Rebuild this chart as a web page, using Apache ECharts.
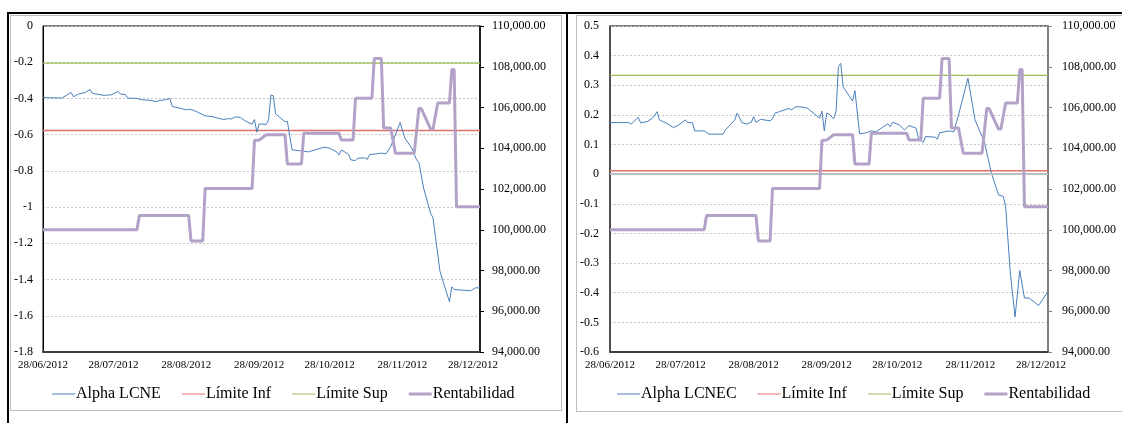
<!DOCTYPE html>
<html>
<head>
<meta charset="utf-8">
<script src="https://cdn.jsdelivr.net/npm/echarts@6/dist/echarts.min.js"></script>
<style>
  html, body { margin:0; padding:0; background:#fff; }
  #wrap { position:relative; width:1122px; height:423px; overflow:hidden; background:#fff; }
  #chart { position:absolute; left:0; top:0; width:1122px; height:423px; }
  .b { position:absolute; }
</style>
</head>
<body>
<div id="wrap">
  <div class="b" style="left:7px;top:12px;width:1115px;height:2px;background:#000;"></div>
  <div class="b" style="left:7px;top:12px;width:2px;height:411px;background:#000;"></div>
  <div class="b" style="left:566px;top:12px;width:2px;height:411px;background:#000;"></div>
  <div class="b" style="left:10px;top:15px;width:550px;height:394px;border:1.5px solid #bdbdbd;"></div>
  <div class="b" style="left:576px;top:15px;width:560px;height:395px;border:1.5px solid #bdbdbd;"></div>
  <div id="chart"></div>
</div>
<script>
// ---------- DATA ----------
const xMin = '2012-06-28';
const xMax = '2012-12-31';
const xTickDates = ['2012-06-28','2012-07-28','2012-08-28','2012-09-28','2012-10-28','2012-11-28','2012-12-28'];

const alphaLcneDates = ['2012-06-28','2012-07-06','2012-07-10','2012-07-11','2012-07-13','2012-07-16','2012-07-18','2012-07-19','2012-07-24','2012-07-27','2012-07-30','2012-07-31','2012-08-02','2012-08-03','2012-08-07','2012-08-09','2012-08-13','2012-08-15','2012-08-16','2012-08-19','2012-08-21','2012-08-22','2012-08-25','2012-08-28','2012-08-29','2012-08-31','2012-09-02','2012-09-05','2012-09-08','2012-09-11','2012-09-13','2012-09-15','2012-09-16','2012-09-18','2012-09-20','2012-09-22','2012-09-25','2012-09-26','2012-09-27','2012-09-28','2012-10-01','2012-10-02','2012-10-03','2012-10-04','2012-10-05','2012-10-09','2012-10-10','2012-10-12','2012-10-15','2012-10-19','2012-10-24','2012-10-26','2012-10-28','2012-10-31','2012-11-01','2012-11-02','2012-11-05','2012-11-06','2012-11-08','2012-11-09','2012-11-12','2012-11-13','2012-11-14','2012-11-17','2012-11-19','2012-11-21','2012-11-23','2012-11-27','2012-11-29','2012-12-02','2012-12-04','2012-12-05','2012-12-07','2012-12-10','2012-12-11','2012-12-14','2012-12-18','2012-12-19','2012-12-20','2012-12-27','2012-12-29','2012-12-31'];
const alphaLcneValues = [-0.395,-0.398,-0.367,-0.391,-0.376,-0.367,-0.350,-0.372,-0.383,-0.380,-0.361,-0.376,-0.378,-0.398,-0.400,-0.407,-0.411,-0.418,-0.413,-0.407,-0.400,-0.444,-0.453,-0.463,-0.459,-0.465,-0.477,-0.496,-0.500,-0.511,-0.516,-0.511,-0.514,-0.501,-0.505,-0.523,-0.542,-0.516,-0.586,-0.540,-0.544,-0.518,-0.381,-0.385,-0.485,-0.529,-0.526,-0.684,-0.688,-0.695,-0.675,-0.669,-0.675,-0.695,-0.712,-0.684,-0.708,-0.739,-0.743,-0.730,-0.728,-0.736,-0.710,-0.706,-0.702,-0.706,-0.666,-0.533,-0.619,-0.675,-0.739,-0.754,-0.896,-1.034,-1.060,-1.357,-1.523,-1.440,-1.455,-1.462,-1.446,-1.445];

const alphaLcnecDates = ['2012-06-28','2012-07-06','2012-07-07','2012-07-10','2012-07-11','2012-07-14','2012-07-16','2012-07-18','2012-07-19','2012-07-22','2012-07-25','2012-07-27','2012-07-30','2012-07-31','2012-08-02','2012-08-03','2012-08-07','2012-08-09','2012-08-15','2012-08-16','2012-08-20','2012-08-21','2012-08-23','2012-08-25','2012-08-27','2012-08-28','2012-08-29','2012-08-31','2012-09-04','2012-09-05','2012-09-06','2012-09-08','2012-09-12','2012-09-13','2012-09-15','2012-09-18','2012-09-20','2012-09-23','2012-09-25','2012-09-26','2012-09-27','2012-09-28','2012-09-29','2012-10-01','2012-10-02','2012-10-03','2012-10-04','2012-10-05','2012-10-09','2012-10-10','2012-10-12','2012-10-15','2012-10-17','2012-10-19','2012-10-22','2012-10-24','2012-10-25','2012-10-26','2012-10-29','2012-10-31','2012-11-02','2012-11-05','2012-11-06','2012-11-08','2012-11-09','2012-11-13','2012-11-14','2012-11-15','2012-11-19','2012-11-21','2012-11-23','2012-11-27','2012-11-30','2012-12-03','2012-12-04','2012-12-06','2012-12-07','2012-12-10','2012-12-12','2012-12-13','2012-12-15','2012-12-17','2012-12-19','2012-12-21','2012-12-23','2012-12-27','2012-12-31'];
const alphaLcnecValues = [0.174,0.174,0.169,0.192,0.173,0.178,0.189,0.211,0.183,0.172,0.157,0.165,0.183,0.174,0.174,0.146,0.146,0.135,0.135,0.149,0.183,0.206,0.174,0.169,0.175,0.194,0.175,0.185,0.180,0.187,0.206,0.211,0.222,0.217,0.228,0.226,0.222,0.202,0.189,0.213,0.146,0.206,0.203,0.187,0.211,0.363,0.374,0.295,0.247,0.282,0.136,0.140,0.146,0.143,0.160,0.170,0.160,0.175,0.166,0.149,0.164,0.155,0.121,0.107,0.127,0.125,0.118,0.140,0.146,0.143,0.200,0.324,0.183,0.127,0.110,0.037,0.003,-0.070,-0.075,-0.109,-0.334,-0.482,-0.325,-0.418,-0.418,-0.443,-0.396];

const rentDates = ['2012-06-28','2012-08-07','2012-08-08','2012-08-29','2012-08-30','2012-09-04','2012-09-05','2012-09-25','2012-09-26','2012-09-28','2012-10-01','2012-10-09','2012-10-10','2012-10-16','2012-10-17','2012-11-01','2012-11-02','2012-11-07','2012-11-08','2012-11-15','2012-11-16','2012-11-19','2012-11-20','2012-11-23','2012-11-25','2012-12-03','2012-12-05','2012-12-06','2012-12-10','2012-12-11','2012-12-13','2012-12-18','2012-12-19','2012-12-20','2012-12-21','2012-12-31'];
const rentValues = [100000,100000,100700,100700,99450,99450,102030,102030,104380,104400,104660,104660,103230,103230,104740,104740,104410,104410,106460,106460,108400,108400,104990,104990,103760,103760,105950,105950,104940,104940,106220,106220,107860,107860,101130,101130];

const limitsLeft = { inf: -0.577, sup: -0.205 };
const limitsRight = { inf: 0.012, sup: 0.333 };

const leftYTicks = { min: -1.8, max: 0, interval: 0.2 };
const rightYTicks = { min: -0.6, max: 0.5, interval: 0.1 };
const rentTicks = { min: 94000, max: 110000, interval: 2000 };

const legendLeft = ['Alpha LCNE', 'Límite Inf', 'Límite Sup', 'Rentabilidad'];
const legendRight = ['Alpha LCNEC', 'Límite Inf', 'Límite Sup', 'Rentabilidad'];

// ---------- STYLE ----------
const FONT = "'Liberation Serif', 'Times New Roman', serif";
const C_BLUE = '#4a7ebb', C_RED = '#e0716e', C_GREEN = '#9bbb59', C_PURPLE = '#b3a2c7';
const THIN_ICON = 'path://M0,0 L23,0 L23,1 L0,1 Z';
const THICK_ICON = 'path://M0,0 L23,0 L23,3 L0,3 Z';

const ts = s => { const p = s.split('-').map(Number); return Date.UTC(p[0], p[1] - 1, p[2]); };
const zip = (d, v) => d.map((x, i) => [ts(x), v[i]]);
const pad = n => (n < 10 ? '0' : '') + n;
const tickTs = xTickDates.map(ts);
function fmtDate(v) {
  const d = new Date(v);
  return pad(d.getUTCDate()) + '/' + pad(d.getUTCMonth() + 1) + '/' + d.getUTCFullYear();
}
const fmtMoney = v => v.toLocaleString('en-US', { minimumFractionDigits: 2, maximumFractionDigits: 2 });

function xAxisFor(gi) {
  return {
    type: 'value', gridIndex: gi, min: ts(xMin), max: ts(xMax),
    axisLine: { show: true, onZero: false, lineStyle: { color: '#3f3f3f', width: 2 } },
    axisTick: { show: false },
    splitLine: { show: false },
    axisLabel: { customValues: tickTs, formatter: fmtDate, color: '#000', fontFamily: FONT, fontSize: 11, margin: 8, hideOverlap: false, showMinLabel: true, showMaxLabel: true }
  };
}
function yLeft(gi, t, lineColor, lineWidth, margin) {
  return {
    type: 'value', gridIndex: gi, min: t.min, max: t.max, interval: t.interval, position: 'left',
    axisLine: { show: true, onZero: false, lineStyle: { color: lineColor, width: lineWidth } },
    axisTick: { show: false },
    splitLine: { show: true, lineStyle: { color: '#c4c4c4', type: [2, 2], width: 1 } },
    axisLabel: { color: '#000', fontFamily: FONT, fontSize: 12, margin: margin }
  };
}
function yRight(gi, lineColor, lineWidth, margin) {
  return {
    type: 'value', gridIndex: gi, min: rentTicks.min, max: rentTicks.max, interval: rentTicks.interval, position: 'right',
    axisLine: { show: true, onZero: false, lineStyle: { color: lineColor, width: lineWidth } },
    axisTick: { show: true, inside: false, length: 4, lineStyle: { color: lineColor, width: 1 } },
    splitLine: { show: false },
    axisLabel: { color: '#000', fontFamily: FONT, fontSize: 12, margin: margin, formatter: fmtMoney }
  };
}
function lineSeries(name, data, xi, yi, color, width, z, extra) {
  return Object.assign({
    name, type: 'line', xAxisIndex: xi, yAxisIndex: yi, data,
    showSymbol: false, symbol: 'none', animation: false, z: z,
    lineStyle: { color, width }, itemStyle: { color }
  }, extra || {});
}
function legendData(names) {
  return names.map(n => ({ name: n, icon: n === 'Rentabilidad' ? THICK_ICON : THIN_ICON }));
}

const chart = echarts.init(document.getElementById('chart'), null, { renderer: 'canvas' });
const option = {
  animation: false,
  backgroundColor: 'transparent',
  textStyle: { fontFamily: FONT },
  grid: [
    { left: 43, top: 26, width: 437, height: 326, show: true, borderColor: '#000', borderWidth: 1, backgroundColor: 'transparent' },
    { left: 610, top: 26, width: 438, height: 326, show: true, borderColor: '#000', borderWidth: 1, backgroundColor: 'transparent' }
  ],
  xAxis: [xAxisFor(0), xAxisFor(1)],
  yAxis: [
    yLeft(0, leftYTicks, '#000', 1, 10),
    yRight(0, '#000', 1.5, 12),
    yLeft(1, rightYTicks, '#3f3f3f', 1.5, 11),
    yRight(1, '#7f7f7f', 2, 14)
  ],
  legend: [
    { data: legendData(legendLeft), left: 47, top: 381, itemWidth: 23, itemHeight: 14, itemGap: 21, symbolKeepAspect: true,
      textStyle: { fontFamily: FONT, fontSize: 16, color: '#000', padding: [0, 0, 0, -4] }, selectedMode: false },
    { data: legendData(legendRight), left: 612, top: 381, itemWidth: 23, itemHeight: 14, itemGap: 21, symbolKeepAspect: true,
      textStyle: { fontFamily: FONT, fontSize: 16, color: '#000', padding: [0, 0, 0, -4] }, selectedMode: false }
  ],
  series: [
    lineSeries('Alpha LCNE', zip(alphaLcneDates, alphaLcneValues), 0, 0, C_BLUE, 1, 4),
    lineSeries('Límite Inf', zip([xMin, xMax], [limitsLeft.inf, limitsLeft.inf]), 0, 0, C_RED, 1.5, 3),
    lineSeries('Límite Sup', zip([xMin, xMax], [limitsLeft.sup, limitsLeft.sup]), 0, 0, C_GREEN, 1.25, 3),
    lineSeries('Rentabilidad', zip(rentDates, rentValues), 0, 1, C_PURPLE, 3, 5),

    lineSeries('Alpha LCNEC', zip(alphaLcnecDates, alphaLcnecValues), 1, 2, C_BLUE, 1, 4),
    lineSeries('Límite Inf', zip([xMin, xMax], [limitsRight.inf, limitsRight.inf]), 1, 2, C_RED, 1.5, 3, {
      markLine: { silent: true, symbol: 'none', label: { show: false }, animation: false,
        lineStyle: { color: '#bfbfbf', width: 2, type: 'solid' }, data: [{ yAxis: 0 }] }
    }),
    lineSeries('Límite Sup', zip([xMin, xMax], [limitsRight.sup, limitsRight.sup]), 1, 2, C_GREEN, 1.25, 3),
    lineSeries('Rentabilidad', zip(rentDates, rentValues), 1, 3, C_PURPLE, 3, 5)
  ]
};
chart.setOption(option);
</script>
</body>
</html>
